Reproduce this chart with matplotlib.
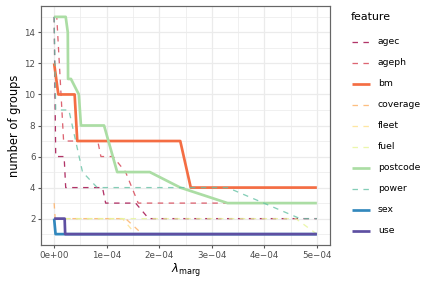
import matplotlib
matplotlib.use('Agg')
import matplotlib.pyplot as plt
from matplotlib.lines import Line2D

plt.rcParams['font.family'] = ['DejaVu Sans']
plt.rcParams['mathtext.fontset'] = 'dejavusans'

# features in legend order, Spectral palette
features = ['agec', 'ageph', 'bm', 'coverage', 'fleet', 'fuel', 'postcode', 'power', 'sex', 'use']
colours = ['#9E0142', '#D53E4F', '#F46D43', '#FDAE61', '#FEE08B',
           '#E6F598', '#ABDDA4', '#66C2A5', '#3288BD', '#5E4FA2']
solid = ['bm', 'postcode', 'sex', 'use']

# lambda_marg vs number of groups
agec_lambda = [0, 0.3e-5, 1.9e-5, 2.2e-5, 9.2e-5, 9.8e-5, 1.55e-4, 1.8e-4, 5e-4]
agec_groups = [15, 6, 6, 4, 4, 3, 3, 2, 2]

ageph_lambda = [0, 0.5e-5, 1.8e-5, 8.3e-5, 8.9e-5, 1.12e-4, 1.36e-4, 1.6e-4, 5e-4]
ageph_groups = [15, 15, 7, 7, 6, 6, 5, 3, 3]

bm_lambda = [0, 0.8e-5, 3.9e-5, 4.4e-5, 2.4e-4, 2.6e-4, 5e-4]
bm_groups = [12, 10, 10, 7, 7, 4, 4]

coverage_lambda = [0, 0.2e-5, 1.36e-4, 1.68e-4, 5e-4]
coverage_groups = [3, 2, 2, 1, 1]

fleet_lambda = [0, 1.3e-4, 1.55e-4, 5e-4]
fleet_groups = [2, 2, 1, 1]

fuel_lambda = [0, 4.6e-4, 5e-4]
fuel_groups = [2, 2, 1]

postcode_lambda = [0, 2.2e-5, 2.6e-5, 2.65e-5, 3.2e-5, 4.7e-5, 5.1e-5, 9.5e-5,
                   1.2e-4, 1.82e-4, 2.4e-4, 3.3e-4, 5e-4]
postcode_groups = [15, 15, 14, 11, 11, 10, 8, 8, 5, 5, 4, 3, 3]

power_lambda = [0, 0.3e-5, 2.8e-5, 5.4e-5, 8.2e-5, 3.3e-4, 4.68e-4, 5e-4]
power_groups = [15, 9, 9, 5, 4, 4, 2, 2]

sex_lambda = [0, 0.27e-5, 5e-4]
sex_groups = [2, 1, 1]

use_lambda = [0, 2e-5, 2.1e-5, 5e-4]
use_groups = [2, 2, 1, 1]

series = {
    'agec': (agec_lambda, agec_groups),
    'ageph': (ageph_lambda, ageph_groups),
    'bm': (bm_lambda, bm_groups),
    'coverage': (coverage_lambda, coverage_groups),
    'fleet': (fleet_lambda, fleet_groups),
    'fuel': (fuel_lambda, fuel_groups),
    'postcode': (postcode_lambda, postcode_groups),
    'power': (power_lambda, power_groups),
    'sex': (sex_lambda, sex_groups),
    'use': (use_lambda, use_groups),
}

x_ticks = [0, 1e-4, 2e-4, 3e-4, 4e-4, 5e-4]
x_labels = ['0e+00', '1e\u221204', '2e\u221204', '3e\u221204', '4e\u221204', '5e\u221204']
y_ticks = [2, 4, 6, 8, 10, 12, 14]

W, H = 436, 290
fig = plt.figure(figsize=(W / 72, H / 72), dpi=72)
ax = fig.add_axes([41 / W, 1 - 245 / H, (330 - 41) / W, (245 - 6) / H])


def style(name):
    if name in solid:
        return dict(lw=2.7, ls='-')
    return dict(lw=1.3, ls=(0, (4.2, 4.2)), alpha=0.8)


for name, col in zip(features, colours):
    xs, ys = series[name]
    ax.plot(xs, ys, color=col, solid_capstyle='butt', dash_capstyle='butt',
            zorder=3, **style(name))

ax.set_xlim(-2.5e-5, 5.25e-4)
ax.set_ylim(0.3, 15.7)
ax.set_xticks(x_ticks)
ax.set_xticklabels(x_labels)
ax.set_yticks(y_ticks)
ax.set_xticks([0.5e-4, 1.5e-4, 2.5e-4, 3.5e-4, 4.5e-4], minor=True)
ax.set_yticks([1, 3, 5, 7, 9, 11, 13, 15], minor=True)
ax.grid(which='major', color='#EBEBEB', lw=1.3, zorder=0)
ax.grid(which='minor', color='#EBEBEB', lw=0.7, zorder=0)
ax.set_axisbelow(True)
ax.tick_params(which='major', length=3, width=1.1, color='#555555',
               labelcolor='#4D4D4D', labelsize=8.8, pad=2.5)
ax.tick_params(which='minor', length=0)
for s in ax.spines.values():
    s.set_color('#666666')
    s.set_linewidth(1.2)

fig.text(15 / W, 1 - 125.5 / H, 'number of groups', rotation=90,
         ha='center', va='center', fontsize=11.5)
fig.text(185.5 / W, 1 - 270 / H, r'$\lambda_{\mathrm{marg}}$',
         ha='center', va='center', fontsize=11.5)

# legend
fig.text(351 / W, 1 - 16.5 / H, 'feature', ha='left', va='center', fontsize=11)
for i, (name, col) in enumerate(zip(features, colours)):
    yy = 1 - (41.5 + i * 21.05) / H
    fig.add_artist(Line2D([352 / W, 369.5 / W], [yy, yy], color=col,
                          dash_capstyle='butt', solid_capstyle='butt',
                          **style(name)))
    fig.text(378 / W, yy, name, ha='left', va='center', fontsize=9.3)

fig.savefig('out.png', dpi=72)
